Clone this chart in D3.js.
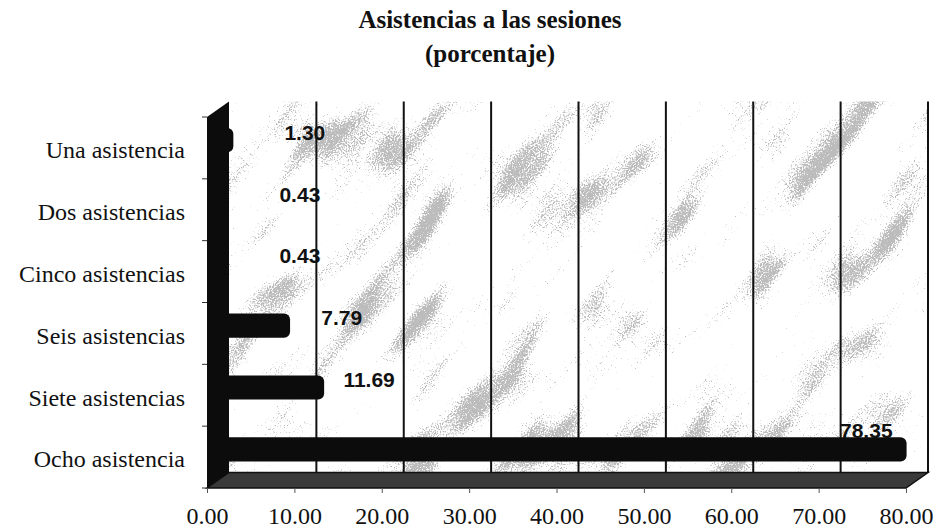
<!DOCTYPE html>
<meta charset="utf-8">
<style>
body { margin: 0; background: #fff; }
svg { display: block; }
.cat { font: 24px "Liberation Serif", serif; fill: #111; }
.ttl { font: bold 25px "Liberation Serif", serif; fill: #111; }
.val { font: bold 21px "Liberation Sans", sans-serif; fill: #111; }
.xaxis text { font: 24px "Liberation Serif", serif; fill: #111; }
</style>
<body>
<script src="https://d3js.org/d3.v7.min.js"></script>
<script>
// data
var categories = ["Una asistencia", "Dos asistencias", "Cinco asistencias",
                  "Seis asistencias", "Siete asistencias", "Ocho asistencia"]
var values = [1.30, 0.43, 0.43, 7.79, 11.69, 78.35]
var xTicks = [0, 10, 20, 30, 40, 50, 60, 70, 80]
var titleLines = ["Asistencias a las sesiones", "(porcentaje)"]

var W = 937, H = 532
var dx = 22, dy = -15.5   // depth of the 3d box

var x = d3.scaleLinear().domain([0, 80]).range([207, 906])
var y = d3.scaleBand().domain(categories).range([117, 488])
          .paddingInner(0.61).paddingOuter(0.305)
// where excel put the data labels (squashed towards the wall)
var xLab = d3.scaleLinear().domain([0, 80]).range([277, 277 + 0.65 * (x(80) - x(0))])

var svg = d3.select("body").append("svg").attr("width", W).attr("height", H)

var defs = svg.append("defs")
var f = defs.append("filter").attr("id", "speck")
f.append("feTurbulence").attr("type", "fractalNoise").attr("baseFrequency", "0.01 0.028")
  .attr("numOctaves", 2).attr("seed", 5).attr("result", "blob0")
f.append("feColorMatrix").attr("in", "blob0").attr("type", "matrix")
  .attr("values", "1 0 0 0 0  0 1 0 0 0  0 0 1 0 0  0 0 0 0 1").attr("result", "blob")
f.append("feTurbulence").attr("type", "fractalNoise").attr("baseFrequency", "0.9")
  .attr("numOctaves", 1).attr("seed", 11).attr("result", "fine0")
f.append("feColorMatrix").attr("in", "fine0").attr("type", "matrix")
  .attr("values", "1 0 0 0 0  0 1 0 0 0  0 0 1 0 0  0 0 0 0 1").attr("result", "fine")
f.append("feComposite").attr("in", "blob").attr("in2", "fine").attr("operator", "arithmetic")
  .attr("k1", 0).attr("k2", 1).attr("k3", 1).attr("k4", -0.8).attr("result", "mix")
f.append("feColorMatrix").attr("in", "mix").attr("type", "matrix")
  .attr("values", "0 0 0 0 0.5  0 0 0 0 0.5  0 0 0 0 0.5  9 0 0 0 -2.9")

var x0 = x(0), x1 = x(80), yTop = y.range()[0], yBot = y.range()[1]

// back wall with the grey speckles
defs.append("clipPath").attr("id", "back").append("rect")
  .attr("x", x0 + dx).attr("y", yTop + dy).attr("width", x1 - x0).attr("height", yBot - yTop)
svg.append("g").attr("clip-path", "url(#back)")
  .append("g").attr("transform", "rotate(-50," + (x0 + x1) / 2 + "," + (yTop + yBot) / 2 + ")")
  .append("rect").attr("x", -400).attr("y", -400).attr("width", 1800).attr("height", 1400)
  .attr("fill", "#fff").attr("filter", "url(#speck)")

// grid lines on the back wall
svg.append("g").selectAll("line").data(xTicks.slice(1)).join("line")
  .attr("x1", d => x(d) + dx).attr("x2", d => x(d) + dx)
  .attr("y1", yTop + dy).attr("y2", yBot + dy)
  .attr("stroke", "#111").attr("stroke-width", 2)

// floor
svg.append("path")
  .attr("d", "M" + x0 + "," + yBot + "L" + (x0 + dx) + "," + (yBot + dy) +
             "L" + (x1 + dx) + "," + (yBot + dy) + "L" + x1 + "," + yBot + "Z")
  .attr("fill", "#3a3a3a").attr("stroke", "#111").attr("stroke-width", 1.5)

// left wall
svg.append("path")
  .attr("d", "M" + x0 + "," + yTop + "L" + (x0 + dx) + "," + (yTop + dy) +
             "L" + (x0 + dx) + "," + (yBot + dy) + "L" + x0 + "," + yBot + "Z")
  .attr("fill", "#0c0c0c")

// bars (cylinders half way into the box)
svg.append("g").selectAll("rect").data(values).join("rect")
  .attr("x", x0 + dx / 2)
  .attr("y", (d, i) => y(categories[i]) + dy / 2)
  .attr("width", d => x(d) - x0 + 4)
  .attr("height", y.bandwidth())
  .attr("rx", 6)
  .attr("fill", "#0c0c0c")

// data labels
svg.append("g").selectAll("text").data(values).join("text")
  .attr("class", "val")
  .each(function (d, i) {
    var t = d3.select(this)
    var yc = y(categories[i]) + y.bandwidth() / 2 + dy / 2
    if (x(d) + dx / 2 > xLab(d)) {
      // bar runs past the label spot: put it on top of the bar end
      t.attr("x", x(d) + dx / 2 - 10).attr("y", y(categories[i]) + dy / 2 + 1)
       .attr("text-anchor", "end")
    } else {
      t.attr("x", xLab(d)).attr("y", yc - 8).attr("dy", "0.36em").attr("text-anchor", "start")
    }
  })
  .text(d => d.toFixed(2))

// small ticks on the wall edge
svg.append("g").selectAll("line").data(d3.range(categories.length + 1)).join("line")
  .attr("x1", x0 - 5).attr("x2", x0)
  .attr("y1", i => yTop + i * y.step()).attr("y2", i => yTop + i * y.step())
  .attr("stroke", "#333")

// category labels
svg.append("g").selectAll("text").data(categories).join("text")
  .attr("class", "cat")
  .attr("x", 185)
  .attr("y", d => y(d) + y.bandwidth() / 2 + 2)
  .attr("dy", "0.35em")
  .attr("text-anchor", "end")
  .text(d => d)

// x axis
var ax = svg.append("g").attr("class", "xaxis").attr("transform", "translate(0," + yBot + ")")
  .call(d3.axisBottom(x).tickValues(xTicks).tickFormat(d3.format(".2f"))
          .tickSize(5).tickPadding(14))
ax.select(".domain").remove()
ax.selectAll(".tick line").attr("stroke", "#555")

// title
svg.append("g").selectAll("text").data(titleLines).join("text")
  .attr("class", "ttl")
  .attr("x", 490)
  .attr("y", (d, i) => 28 + i * 34)
  .attr("text-anchor", "middle")
  .text(d => d)
</script>
</body>
